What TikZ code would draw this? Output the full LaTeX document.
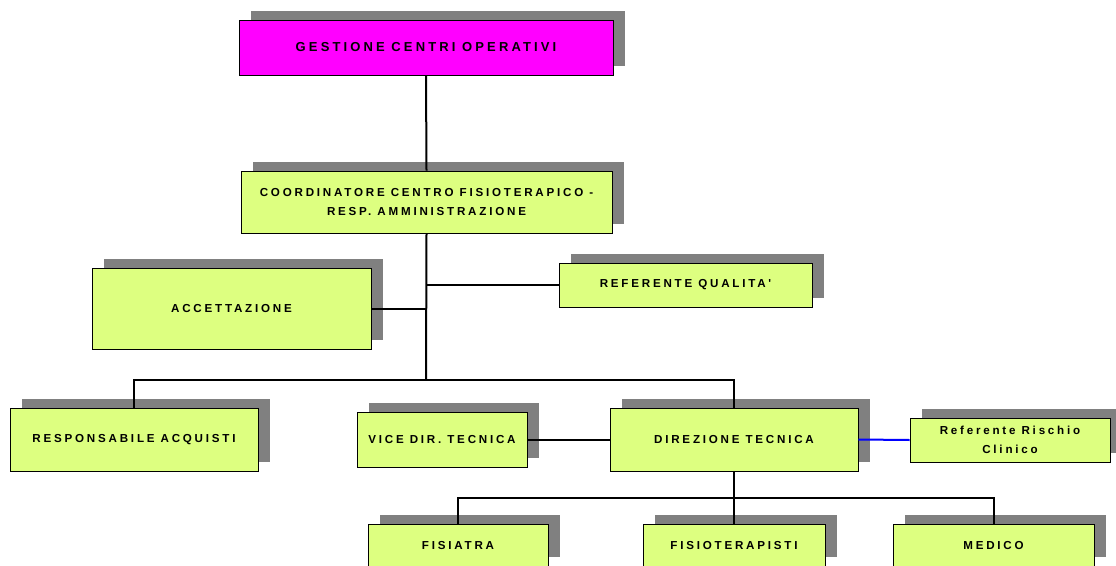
\documentclass[tikz,border=0pt]{standalone}
\usepackage{fontspec}
\setmainfont{Liberation Sans}
\newfontfamily\orgfont[LetterSpace=24]{Liberation Sans}
\usepackage{xcolor}
\usepackage{tikz}
\usetikzlibrary{shadows}
\definecolor{boxgreen}{RGB}{221,255,128}
\definecolor{boxmagenta}{RGB}{255,0,255}
\definecolor{shadowgray}{RGB}{128,128,128}

\begin{document}
\begin{tikzpicture}[x=1pt, y=-1pt]
        \tikzset{orgbox/.style={draw=black, line width=0.9pt, fill=boxgreen, inner sep=0pt, align=center,
            font=\orgfont\bfseries\fontsize{11.6}{18.5}\selectfont,
            general shadow={fill=shadowgray, shadow xshift=12pt, shadow yshift=9pt}}}
        \tikzset{link/.style={line width=2pt, black}}

        \clip (0,0) rectangle (1116,565);

        \node[orgbox, fill=boxmagenta, minimum width=374pt, minimum height=55pt,
            font=\orgfont\bfseries\fontsize{13}{18}\selectfont] (gco) at (426,47.5) {GESTIONE CENTRI OPERATIVI};
        \node[orgbox, minimum width=371pt, minimum height=62pt] (coord) at (426.5,202)
            {COORDINATORE CENTRO FISIOTERAPICO -\\RESP. AMMINISTRAZIONE};
        \node[orgbox, minimum width=279pt, minimum height=81pt] (acc) at (231.5,308.5) {ACCETTAZIONE};
        \node[orgbox, minimum width=253pt, minimum height=44pt] (rq) at (685.5,285) {REFERENTE QUALITA'};

        \node[orgbox, minimum width=248pt, minimum height=63pt] (resp) at (134,439.5) {RESPONSABILE ACQUISTI};
        \node[orgbox, minimum width=170pt, minimum height=55pt] (vice) at (442,439.5) {VICE DIR. TECNICA};
        \node[orgbox, minimum width=248pt, minimum height=63pt] (dir) at (734,439.5) {DIREZIONE TECNICA};
        \node[orgbox, minimum width=200pt, minimum height=44pt] (rrc) at (1010,440) {Referente Rischio\\Clinico};

        \node[orgbox, minimum width=180pt, minimum height=42pt] (fis) at (458,545) {FISIATRA};
        \node[orgbox, minimum width=182pt, minimum height=42pt] (fisio) at (734,545) {FISIOTERAPISTI};
        \node[orgbox, minimum width=201pt, minimum height=42pt] (med) at (993.5,545) {MEDICO};

        \coordinate (split) at (426,380);
        \coordinate (splitB) at (734,498);

        \draw[link] (gco.south) -- (coord.north);
        \draw[link] (coord.south) -- (split);
        \draw[link] (acc.east) -- (acc.east -| split);
        \draw[link] (rq.west) -- (rq.west -| split);
        \draw[link] (resp.north) |- (split) -| (dir.north);
        \draw[link] (vice.east) -- (dir.west);
        \draw[link, blue] (dir.east) -- (rrc.west);

        \draw[link] (dir.south) -- (splitB);
        \draw[link] (fis.north) |- (splitB) -| (med.north);
        \draw[link] (fisio.north) -- (splitB);

    \end{tikzpicture}
\end{document}
